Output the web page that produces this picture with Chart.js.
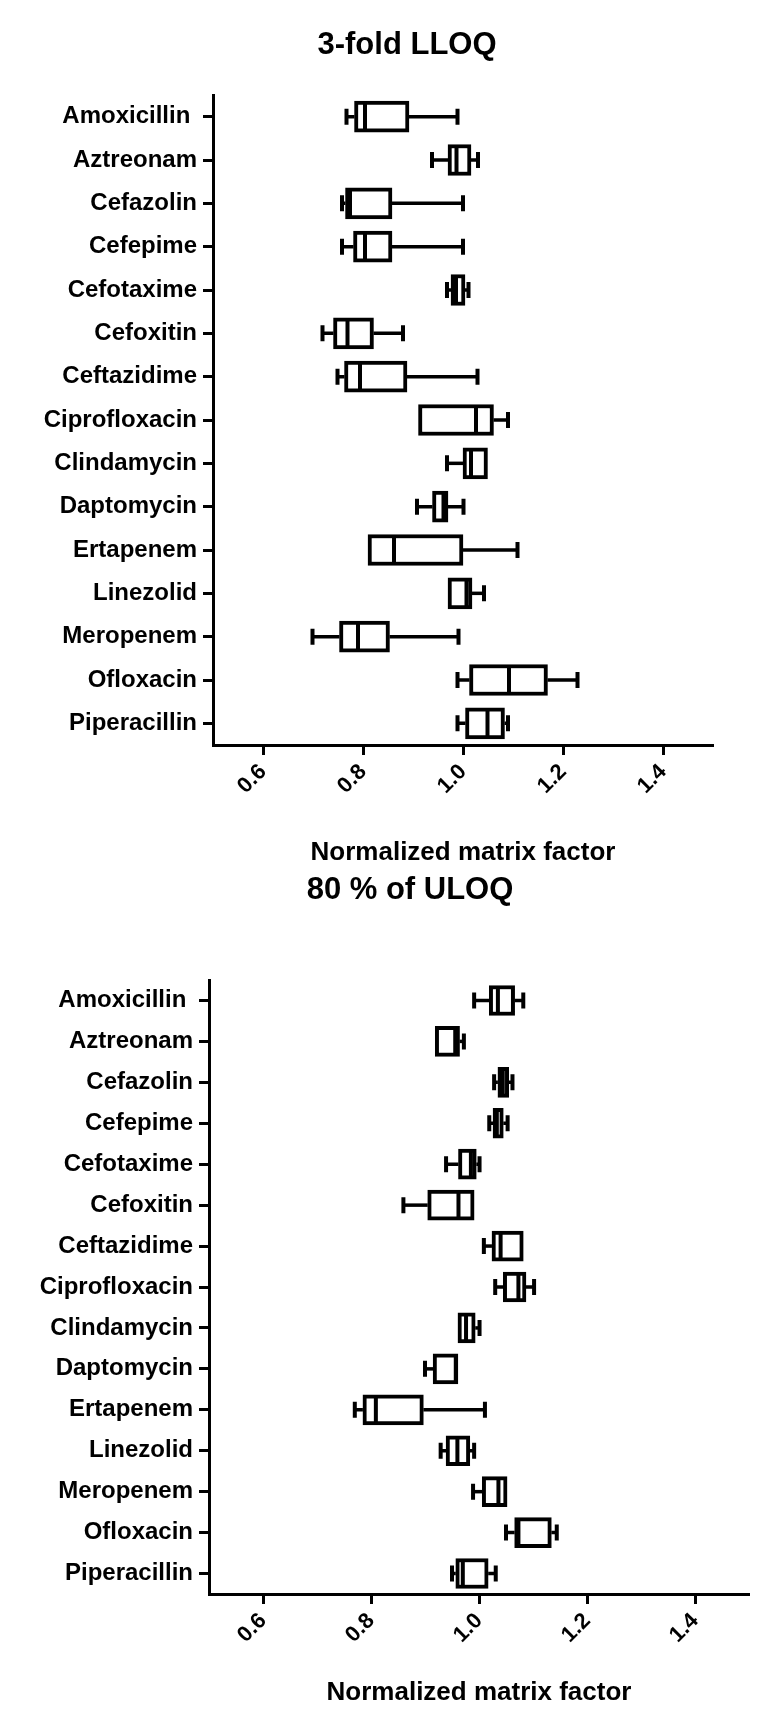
<!doctype html>
<html>
<head>
<meta charset="utf-8">
<title>Normalized matrix factor</title>
<script src="https://cdn.jsdelivr.net/npm/chart.js@4.4.1/dist/chart.umd.min.js"></script>
<style>
  body { margin: 0; background: #fff; }
  .panel { position: absolute; left: 0; }
</style>
</head>
<body>
<div class="panel" style="top:0"><canvas id="lloq" width="765" height="870"></canvas></div>
<div class="panel" style="top:870px"><canvas id="uloq" width="765" height="860"></canvas></div>
<script>
var drugs = ['Amoxicillin ', 'Aztreonam', 'Cefazolin', 'Cefepime', 'Cefotaxime', 'Cefoxitin',
             'Ceftazidime', 'Ciprofloxacin', 'Clindamycin', 'Daptomycin', 'Ertapenem',
             'Linezolid', 'Meropenem', 'Ofloxacin', 'Piperacillin'];
var xTicks = [0.6, 0.8, 1.0, 1.2, 1.4];

// 3-fold LLOQ
var lloqMin = [0.767, 0.938, 0.758, 0.758, 0.968, 0.719, 0.749, 0.911, 0.968, 0.908, 0.810, 0.970, 0.699, 0.989, 0.989];
var lloqQ1  = [0.783, 0.970, 0.765, 0.781, 0.976, 0.741, 0.763, 0.911, 1.000, 0.939, 0.810, 0.970, 0.753, 1.013, 1.005];
var lloqMed = [0.804, 0.987, 0.774, 0.804, 0.986, 0.769, 0.794, 1.026, 1.016, 0.961, 0.862, 1.007, 0.790, 1.092, 1.049];
var lloqQ3  = [0.892, 1.016, 0.858, 0.858, 1.004, 0.821, 0.888, 1.061, 1.049, 0.970, 1.000, 1.018, 0.853, 1.169, 1.083];
var lloqMax = [0.989, 1.030, 1.000, 1.000, 1.011, 0.880, 1.029, 1.090, 1.049, 1.001, 1.109, 1.042, 0.991, 1.229, 1.090];

// 80 % of ULOQ
var uloqMin = [0.991, 0.919, 1.028, 1.019, 0.939, 0.860, 1.009, 1.030, 0.961, 0.900, 0.770, 0.929, 0.989, 1.050, 0.950];
var uloqQ1  = [1.019, 0.919, 1.035, 1.026, 0.962, 0.905, 1.024, 1.045, 0.961, 0.915, 0.785, 0.939, 1.006, 1.066, 0.957];
var uloqMed = [1.035, 0.956, 1.044, 1.033, 0.985, 0.962, 1.040, 1.073, 0.976, 0.957, 0.809, 0.960, 1.036, 1.073, 0.970];
var uloqQ3  = [1.066, 0.964, 1.055, 1.045, 0.995, 0.991, 1.082, 1.087, 0.993, 0.961, 0.897, 0.983, 1.052, 1.134, 1.017];
var uloqMax = [1.082, 0.972, 1.062, 1.053, 1.001, 0.991, 1.082, 1.102, 1.001, 0.961, 1.011, 0.991, 1.052, 1.144, 1.031];

var FONT = '"Liberation Sans", Arial, sans-serif';

// whiskers, caps, medians and the panel title
var boxPlot = {
    id: 'boxPlot',
    afterDatasetsDraw: function(chart) {
        var ctx = chart.ctx;
        var xs = chart.scales.x, ys = chart.scales.y;
        var ds = chart.data.datasets[0];
        var half = ds.barThickness / 2;
        ctx.save();
        ctx.strokeStyle = '#000';
        ds.q1.forEach(function(q1, i) {
            var cy = ys.getPixelForValue(i);
            var x0 = xs.getPixelForValue(ds.wMin[i]);
            var x1 = xs.getPixelForValue(q1);
            var x3 = xs.getPixelForValue(ds.q3[i]);
            var x4 = xs.getPixelForValue(ds.wMax[i]);
            var xm = xs.getPixelForValue(ds.med[i]);
            ctx.lineWidth = 3.5;
            ctx.beginPath();
            if (x0 < x1) { ctx.moveTo(x0, cy); ctx.lineTo(x1, cy); }
            if (x4 > x3) { ctx.moveTo(x3, cy); ctx.lineTo(x4, cy); }
            ctx.stroke();
            ctx.lineWidth = 4;
            ctx.beginPath();
            if (x0 < x1) { ctx.moveTo(x0, cy - 8); ctx.lineTo(x0, cy + 8); }
            if (x4 > x3) { ctx.moveTo(x4, cy - 8); ctx.lineTo(x4, cy + 8); }
            ctx.moveTo(xm, cy - half + 2); ctx.lineTo(xm, cy + half - 2);
            ctx.stroke();
        });
        ctx.fillStyle = '#000';
        ctx.font = 'bold 31px ' + FONT;
        ctx.textAlign = 'center';
        ctx.textBaseline = 'middle';
        ctx.fillText(ds.panelTitle, ds.titleX, ds.titleY);
        ctx.restore();
    }
};

function makeChart(id, title, mins, q1s, meds, q3s, maxs, lay) {
    var boxes = q1s.map(function(q, i) { return [q, q3s[i]]; });
    return new Chart(document.getElementById(id), {
        type: 'bar',
        data: {
            labels: drugs,
            datasets: [{
                data: boxes,
                wMin: mins, q1: q1s, med: meds, q3: q3s, wMax: maxs,
                panelTitle: title, titleX: lay.titleX, titleY: lay.titleY,
                backgroundColor: '#fff',
                borderColor: '#000',
                borderWidth: 4,
                borderSkipped: false,
                barThickness: lay.box
            }]
        },
        plugins: [boxPlot],
        options: {
            indexAxis: 'y',
            responsive: false,
            animation: false,
            layout: { padding: { left: 0, right: lay.right, top: lay.top, bottom: 0 } },
            plugins: { legend: { display: false }, tooltip: { enabled: false } },
            scales: {
                x: {
                    type: 'linear',
                    min: 0.5,
                    max: 1.5,
                    afterBuildTicks: function(scale) {
                        scale.ticks = xTicks.map(function(v) { return { value: v }; });
                    },
                    afterFit: function(scale) { scale.height = lay.xh; },
                    border: { display: true, color: '#000', width: 3 },
                    grid: { drawOnChartArea: false, drawTicks: true, tickLength: 10, tickWidth: 3, tickColor: '#000' },
                    ticks: {
                        minRotation: 45, maxRotation: 45, padding: 4, color: '#000',
                        font: { family: FONT, size: 22, weight: 'bold' },
                        callback: function(v) { return Number(v).toFixed(1); }
                    },
                    title: {
                        display: true, text: 'Normalized matrix factor', color: '#000',
                        font: { family: FONT, size: 26, weight: 'bold' },
                        padding: { top: 0, bottom: lay.tb }
                    }
                },
                y: {
                    type: 'category',
                    offset: true,
                    afterFit: function(scale) { scale.width = lay.yw; },
                    border: { display: true, color: '#000', width: 3 },
                    grid: { offset: false, drawOnChartArea: false, drawTicks: true, tickLength: 10, tickWidth: 3, tickColor: '#000' },
                    ticks: { padding: 6, color: '#000', font: { family: FONT, size: 24, weight: 'bold' } }
                }
            }
        }
    });
}

makeChart('lloq', '3-fold LLOQ', lloqMin, lloqQ1, lloqMed, lloqQ3, lloqMax,
    { top: 95, right: 52, yw: 213, xh: 125, tb: 2, box: 31, titleX: 407, titleY: 45 });
makeChart('uloq', '80 % of ULOQ', uloqMin, uloqQ1, uloqMed, uloqQ3, uloqMax,
    { top: 110, right: 16, yw: 209, xh: 136, tb: 22, box: 30, titleX: 410, titleY: 20 });
</script>
</body>
</html>
